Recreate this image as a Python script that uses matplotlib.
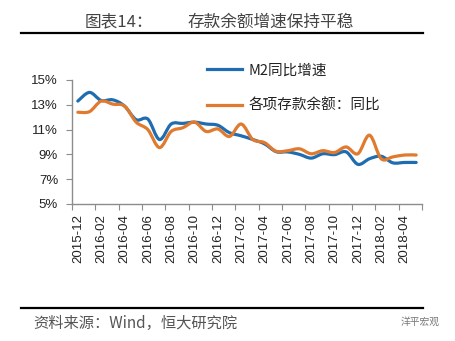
import matplotlib
matplotlib.use("Agg")
import matplotlib.pyplot as plt
from matplotlib.path import Path
from matplotlib.patches import PathPatch
from matplotlib.lines import Line2D
import numpy as np

plt.rcParams['font.family'] = ['Noto Sans CJK SC', 'DejaVu Sans']

months = ["2015-12", "2016-01", "2016-02", "2016-03", "2016-04", "2016-05", "2016-06",
          "2016-07", "2016-08", "2016-09", "2016-10", "2016-11", "2016-12", "2017-01",
          "2017-02", "2017-03", "2017-04", "2017-05", "2017-06", "2017-07", "2017-08",
          "2017-09", "2017-10", "2017-11", "2017-12", "2018-01", "2018-02", "2018-03",
          "2018-04", "2018-05"]
m2_growth = [13.3, 14.0, 13.35, 13.4, 12.9, 11.8, 11.85, 10.2, 11.45, 11.5, 11.6, 11.45,
             11.35, 10.75, 10.5, 10.2, 9.85, 9.22, 9.2, 9.0, 8.7, 9.05, 8.98, 9.2, 8.2,
             8.65, 8.85, 8.32, 8.35, 8.35]
deposit_growth = [12.4, 12.45, 13.3, 13.05, 12.9, 11.6, 11.0, 9.55, 10.85, 11.15, 11.6,
                  10.85, 11.05, 10.45, 11.45, 10.2, 9.95, 9.25, 9.3, 9.45, 9.05, 9.3, 9.15,
                  9.6, 9.05, 10.55, 8.65, 8.8, 8.95, 8.95]
series_names = ["M2同比增速", "各项存款余额：同比"]
yticks = [5, 7, 9, 11, 13, 15]

BLUE = "#1f6db0"
ORANGE = "#e07a2e"
AXIS = "#8c8c8c"

W, H = 456, 341
fig = plt.figure(figsize=(W / 100, H / 100), dpi=100)
ax = fig.add_axes([72 / W, 1 - 204 / H, (422 - 72) / W, (204 - 80) / H])


def smooth_path(xs, ys):
    pts = np.column_stack([xs, ys]).astype(float)
    n = len(pts)
    verts = [pts[0]]
    codes = [Path.MOVETO]
    for i in range(n - 1):
        p0 = pts[i - 1] if i > 0 else pts[i]
        p1 = pts[i]
        p2 = pts[i + 1]
        p3 = pts[i + 2] if i + 2 < n else pts[i + 1]
        c1 = p1 + (p2 - p0) / 6.0
        c2 = p2 - (p3 - p1) / 6.0
        verts += [c1, c2, p2]
        codes += [Path.CURVE4] * 3
    return Path(verts, codes)


x = np.arange(len(months))
for vals, color, z in [(m2_growth, BLUE, 3), (deposit_growth, ORANGE, 4)]:
    ax.add_patch(PathPatch(smooth_path(x, vals), fill=False, edgecolor=color,
                           lw=2.3, capstyle='round', joinstyle='round', zorder=z))

ax.set_xlim(-0.5, len(months) - 0.5)
ax.set_ylim(5, 15)

for s in ['top', 'right']:
    ax.spines[s].set_visible(False)
for s in ['left', 'bottom']:
    ax.spines[s].set_color(AXIS)
    ax.spines[s].set_linewidth(1.0)

ax.set_yticks(yticks)
ax.set_yticklabels([f"{v}%" for v in yticks], family=['Liberation Sans', 'DejaVu Sans'],
                   fontsize=9.5, color="#222222")
ax.tick_params(axis='y', direction='out', length=4, color=AXIS, pad=6)

ax.set_xticks(np.arange(-0.5, len(months), 2))
ax.set_xticklabels([])
ax.set_xticks(np.arange(0, len(months), 2), minor=True)
ax.set_xticklabels(months[::2], minor=True, rotation=90,
                   family=['Liberation Sans', 'DejaVu Sans'], fontsize=9.5, color="#222222")
ax.tick_params(axis='x', which='major', direction='out', length=4, color=AXIS)
ax.tick_params(axis='x', which='minor', length=0, pad=7)

# legend
handles = [Line2D([], [], color=BLUE, lw=2.3), Line2D([], [], color=ORANGE, lw=2.3)]
leg = ax.legend(handles, series_names, loc='upper left', bbox_to_anchor=(0.37, 1.18),
                frameon=False, fontsize=10.5, handlelength=2.4, handletextpad=0.4,
                labelspacing=1.45, borderaxespad=0)
for t in leg.get_texts():
    t.set_color("#222222")

# title and decoration
fig.text(85 / W, 1 - 22 / H, "图表14：", fontsize=12, color="#444444", va='center',
         ha='left', fontweight='light')
fig.text(188 / W, 1 - 22 / H, "存款余额增速保持平稳", fontsize=12, color="#444444",
         va='center', ha='left', fontweight='light')
fig.add_artist(Line2D([21 / W, 423 / W], [1 - 33 / H, 1 - 33 / H], color='black', lw=1.6))
fig.add_artist(Line2D([21 / W, 423 / W], [1 - 308 / H, 1 - 308 / H], color='black', lw=1.6))
fig.text(33 / W, 1 - 323 / H, "资料来源：Wind，恒大研究院", fontsize=11, color="#555555",
         va='center', ha='left', style='italic', fontweight='light')
fig.text(440 / W, 1 - 322 / H, "洋平宏观", fontsize=7, color="#777777", va='center', ha='right')

fig.savefig("out.png", dpi=100)
